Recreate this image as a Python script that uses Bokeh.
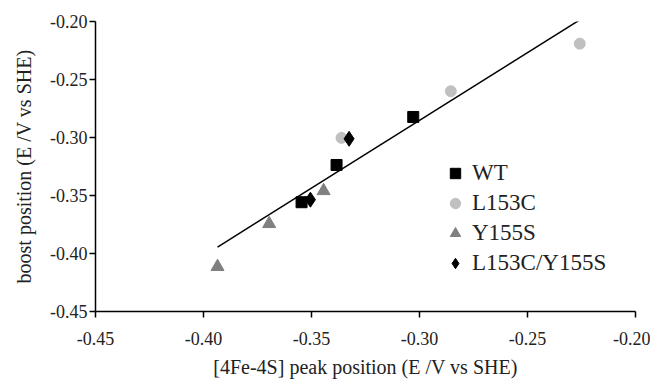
import numpy as np
from bokeh.plotting import figure
from bokeh.models import FixedTicker, PrintfTickFormatter, Range1d, Legend, LegendItem
from bokeh.embed import file_html
from bokeh.resources import INLINE

# Data
wt_x = [-0.3029, -0.3384, -0.3546]
wt_y = [-0.2823, -0.3237, -0.3558]
l153c_x = [-0.2258, -0.2855, -0.3361]
l153c_y = [-0.2191, -0.2601, -0.3003]
y155s_x = [-0.3444, -0.3696, -0.3935]
y155s_y = [-0.3460, -0.3744, -0.4114]
dbl_x = [-0.3326, -0.3505]
dbl_y = [-0.3011, -0.3536]
ticks = [-0.45, -0.40, -0.35, -0.30, -0.25, -0.20]

FONT = "Liberation Serif"

p = figure(width=650, height=380, output_backend="svg", toolbar_location=None,
           x_range=Range1d(-0.45, -0.20), y_range=Range1d(-0.45, -0.20),
           min_border_left=95, min_border_right=15, min_border_top=21, min_border_bottom=66)
p.outline_line_color = None
p.xgrid.visible = False
p.ygrid.visible = False

# linear regression over all points
all_x = np.array(wt_x + l153c_x + y155s_x + dbl_x)
all_y = np.array(wt_y + l153c_y + y155s_y + dbl_y)
m, b = np.polyfit(all_x, all_y, 1)
fx = np.array([all_x.min(), all_x.max()])
p.line(fx, m * fx + b, line_color="black", line_width=1.5)

r1 = p.scatter(wt_x, wt_y, marker="square", size=11, color="black")
r2 = p.scatter(l153c_x, l153c_y, marker="circle", size=11, color="#c0c0c0")
r3 = p.scatter(y155s_x, y155s_y, marker="triangle", size=13, color="#808080")
r4 = p.scatter(dbl_x, dbl_y, marker="diamond", size=15, color="black")

for ax in (p.xaxis, p.yaxis):
    ax.ticker = FixedTicker(ticks=ticks)
    ax.formatter = PrintfTickFormatter(format="%.2f")
    ax.minor_tick_line_color = None
    ax.major_tick_in = 0
    ax.major_tick_out = 6
    ax.axis_line_width = 1.5
    ax.major_tick_line_width = 1.5
    ax.axis_line_color = "black"
    ax.major_tick_line_color = "black"
    ax.major_label_text_font = FONT
    ax.major_label_text_font_size = "18px"
    ax.major_label_text_color = "#222222"
    ax.axis_label_text_font = FONT
    ax.axis_label_text_font_size = "20px"
    ax.axis_label_text_font_style = "normal"
    ax.axis_label_text_color = "#222222"

p.xaxis.axis_label = "[4Fe-4S] peak position (E /V vs SHE)"
p.yaxis.axis_label = "boost position (E /V vs SHE)"
p.xaxis.major_label_standoff = 14
p.yaxis.major_label_standoff = 2
p.xaxis.axis_label_standoff = 8
p.yaxis.axis_label_standoff = 12

legend = Legend(items=[LegendItem(label="WT", renderers=[r1]),
                       LegendItem(label="L153C", renderers=[r2]),
                       LegendItem(label="Y155S", renderers=[r3]),
                       LegendItem(label="L153C/Y155S", renderers=[r4])],
                location=(347, 35))
legend.border_line_color = None
legend.background_fill_alpha = 0
legend.padding = 0
legend.margin = 0
legend.spacing = 4
legend.glyph_width = 26
legend.glyph_height = 26
legend.label_height = 26
legend.label_standoff = 4
legend.label_text_font = FONT
legend.label_text_font_size = "23px"
legend.label_text_color = "#222222"
p.add_layout(legend, "center")

open("out.html", "w").write(file_html(p, INLINE))
